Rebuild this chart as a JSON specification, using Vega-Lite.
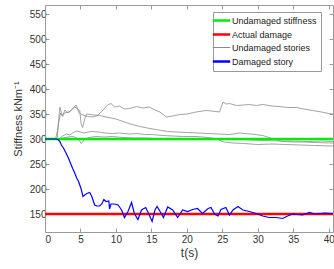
{
  "$schema": "https://vega.github.io/schema/vega-lite/v6.json",
  "width": 288,
  "height": 227,
  "autosize": {"type": "none"},
  "padding": {"left": 45, "top": 5, "right": 1, "bottom": 37},
  "background": "white",
  "config": {
    "view": {"stroke": null},
    "font": "Liberation Sans",
    "axis": {
      "grid": false,
      "domainColor": "#9a9a9a",
      "tickColor": "#9a9a9a",
      "tickSize": -4,
      "labelColor": "#333333",
      "labelFont": "Liberation Sans",
      "labelFontSize": 10,
      "titleFont": "Liberation Sans",
      "titleFontWeight": "normal",
      "titleColor": "#333333"
    },
    "legend": {
      "orient": "none",
      "legendX": 168,
      "legendY": 7,
      "fillColor": "white",
      "strokeColor": "#999999",
      "padding": 4,
      "labelFont": "Liberation Sans",
      "labelFontSize": 9,
      "labelColor": "#222222",
      "labelOffset": 6,
      "symbolType": "stroke",
      "symbolSize": 300,
      "rowPadding": 3,
      "labelLimit": 200
    }
  },
  "datasets": {
    "grey": [
      {"t":0,"v":300,"s":"A","g":"Undamaged stories"},{"t":1.7,"v":300,"s":"A","g":"Undamaged stories"},{"t":1.9,"v":330,"s":"A","g":"Undamaged stories"},{"t":2.2,"v":352,"s":"A","g":"Undamaged stories"},{"t":2.5,"v":345,"s":"A","g":"Undamaged stories"},{"t":2.8,"v":358,"s":"A","g":"Undamaged stories"},{"t":3.2,"v":352,"s":"A","g":"Undamaged stories"},{"t":3.6,"v":356,"s":"A","g":"Undamaged stories"},{"t":4,"v":362,"s":"A","g":"Undamaged stories"},{"t":4.4,"v":368,"s":"A","g":"Undamaged stories"},{"t":4.8,"v":352,"s":"A","g":"Undamaged stories"},{"t":5.3,"v":348,"s":"A","g":"Undamaged stories"},{"t":6,"v":345,"s":"A","g":"Undamaged stories"},{"t":6.8,"v":344,"s":"A","g":"Undamaged stories"},{"t":7.5,"v":348,"s":"A","g":"Undamaged stories"},{"t":8.2,"v":358,"s":"A","g":"Undamaged stories"},{"t":8.8,"v":368,"s":"A","g":"Undamaged stories"},{"t":9.3,"v":371,"s":"A","g":"Undamaged stories"},{"t":9.8,"v":364,"s":"A","g":"Undamaged stories"},{"t":10.5,"v":366,"s":"A","g":"Undamaged stories"},{"t":11.2,"v":360,"s":"A","g":"Undamaged stories"},{"t":11.9,"v":361,"s":"A","g":"Undamaged stories"},{"t":12.9,"v":365,"s":"A","g":"Undamaged stories"},{"t":13.8,"v":362,"s":"A","g":"Undamaged stories"},{"t":14.7,"v":364,"s":"A","g":"Undamaged stories"},{"t":15.5,"v":358,"s":"A","g":"Undamaged stories"},{"t":16.2,"v":354,"s":"A","g":"Undamaged stories"},{"t":17.1,"v":344,"s":"A","g":"Undamaged stories"},{"t":18,"v":346,"s":"A","g":"Undamaged stories"},{"t":19,"v":349,"s":"A","g":"Undamaged stories"},{"t":20,"v":350,"s":"A","g":"Undamaged stories"},{"t":21.3,"v":354,"s":"A","g":"Undamaged stories"},{"t":22.7,"v":357,"s":"A","g":"Undamaged stories"},{"t":23.5,"v":356,"s":"A","g":"Undamaged stories"},{"t":24.6,"v":354,"s":"A","g":"Undamaged stories"},{"t":25.1,"v":374,"s":"A","g":"Undamaged stories"},{"t":25.6,"v":370,"s":"A","g":"Undamaged stories"},{"t":26,"v":371,"s":"A","g":"Undamaged stories"},{"t":27,"v":367,"s":"A","g":"Undamaged stories"},{"t":28,"v":368,"s":"A","g":"Undamaged stories"},{"t":28.8,"v":369,"s":"A","g":"Undamaged stories"},{"t":29.8,"v":367,"s":"A","g":"Undamaged stories"},{"t":30.7,"v":369,"s":"A","g":"Undamaged stories"},{"t":32,"v":366,"s":"A","g":"Undamaged stories"},{"t":33,"v":365,"s":"A","g":"Undamaged stories"},{"t":34.2,"v":363,"s":"A","g":"Undamaged stories"},{"t":35.4,"v":363,"s":"A","g":"Undamaged stories"},{"t":36.5,"v":360,"s":"A","g":"Undamaged stories"},{"t":37.7,"v":357,"s":"A","g":"Undamaged stories"},{"t":39,"v":354,"s":"A","g":"Undamaged stories"},{"t":40,"v":351,"s":"A","g":"Undamaged stories"},{"t":40.6,"v":350,"s":"A","g":"Undamaged stories"},

      {"t":0,"v":300,"s":"B","g":"Undamaged stories"},{"t":1.5,"v":300,"s":"B","g":"Undamaged stories"},{"t":1.8,"v":320,"s":"B","g":"Undamaged stories"},{"t":2.1,"v":364,"s":"B","g":"Undamaged stories"},{"t":2.4,"v":348,"s":"B","g":"Undamaged stories"},{"t":2.8,"v":352,"s":"B","g":"Undamaged stories"},{"t":3.5,"v":355,"s":"B","g":"Undamaged stories"},{"t":4.2,"v":364,"s":"B","g":"Undamaged stories"},{"t":4.9,"v":357,"s":"B","g":"Undamaged stories"},{"t":5.1,"v":330,"s":"B","g":"Undamaged stories"},{"t":5.3,"v":323,"s":"B","g":"Undamaged stories"},{"t":5.6,"v":340,"s":"B","g":"Undamaged stories"},{"t":5.9,"v":350,"s":"B","g":"Undamaged stories"},{"t":6.8,"v":348,"s":"B","g":"Undamaged stories"},{"t":7.7,"v":347,"s":"B","g":"Undamaged stories"},{"t":8.6,"v":344,"s":"B","g":"Undamaged stories"},{"t":10,"v":340,"s":"B","g":"Undamaged stories"},{"t":11,"v":335,"s":"B","g":"Undamaged stories"},{"t":12,"v":330,"s":"B","g":"Undamaged stories"},{"t":13.4,"v":325,"s":"B","g":"Undamaged stories"},{"t":14.8,"v":321,"s":"B","g":"Undamaged stories"},{"t":16,"v":318,"s":"B","g":"Undamaged stories"},{"t":17.3,"v":315,"s":"B","g":"Undamaged stories"},{"t":18.6,"v":314,"s":"B","g":"Undamaged stories"},{"t":20,"v":313,"s":"B","g":"Undamaged stories"},{"t":21.5,"v":312,"s":"B","g":"Undamaged stories"},{"t":23,"v":311,"s":"B","g":"Undamaged stories"},{"t":24.5,"v":310,"s":"B","g":"Undamaged stories"},{"t":26,"v":309,"s":"B","g":"Undamaged stories"},{"t":27.4,"v":312,"s":"B","g":"Undamaged stories"},{"t":29,"v":310,"s":"B","g":"Undamaged stories"},{"t":30.7,"v":307,"s":"B","g":"Undamaged stories"},{"t":31.8,"v":302,"s":"B","g":"Undamaged stories"},{"t":33.5,"v":295,"s":"B","g":"Undamaged stories"},{"t":35,"v":294,"s":"B","g":"Undamaged stories"},{"t":36.5,"v":294,"s":"B","g":"Undamaged stories"},{"t":38,"v":293,"s":"B","g":"Undamaged stories"},{"t":40.6,"v":292,"s":"B","g":"Undamaged stories"},

      {"t":0,"v":300,"s":"C","g":"Undamaged stories"},{"t":2,"v":300,"s":"C","g":"Undamaged stories"},{"t":2.5,"v":306,"s":"C","g":"Undamaged stories"},{"t":3,"v":310,"s":"C","g":"Undamaged stories"},{"t":3.5,"v":308,"s":"C","g":"Undamaged stories"},{"t":4,"v":313,"s":"C","g":"Undamaged stories"},{"t":4.5,"v":316,"s":"C","g":"Undamaged stories"},{"t":5,"v":314,"s":"C","g":"Undamaged stories"},{"t":5.5,"v":312,"s":"C","g":"Undamaged stories"},{"t":6.5,"v":315,"s":"C","g":"Undamaged stories"},{"t":7.5,"v":314,"s":"C","g":"Undamaged stories"},{"t":8.5,"v":312,"s":"C","g":"Undamaged stories"},{"t":9.5,"v":311,"s":"C","g":"Undamaged stories"},{"t":10.5,"v":312,"s":"C","g":"Undamaged stories"},{"t":11.9,"v":310,"s":"C","g":"Undamaged stories"},{"t":13,"v":311,"s":"C","g":"Undamaged stories"},{"t":14,"v":309,"s":"C","g":"Undamaged stories"},{"t":15,"v":309,"s":"C","g":"Undamaged stories"},{"t":16.6,"v":307,"s":"C","g":"Undamaged stories"},{"t":18,"v":306,"s":"C","g":"Undamaged stories"},{"t":19.5,"v":305,"s":"C","g":"Undamaged stories"},{"t":21.3,"v":305,"s":"C","g":"Undamaged stories"},{"t":23,"v":303,"s":"C","g":"Undamaged stories"},{"t":24.2,"v":300,"s":"C","g":"Undamaged stories"},{"t":25.2,"v":294,"s":"C","g":"Undamaged stories"},{"t":26.5,"v":292,"s":"C","g":"Undamaged stories"},{"t":28,"v":291,"s":"C","g":"Undamaged stories"},{"t":30,"v":289,"s":"C","g":"Undamaged stories"},{"t":32,"v":290,"s":"C","g":"Undamaged stories"},{"t":34,"v":289,"s":"C","g":"Undamaged stories"},{"t":36,"v":288,"s":"C","g":"Undamaged stories"},{"t":38,"v":287,"s":"C","g":"Undamaged stories"},{"t":40.6,"v":286,"s":"C","g":"Undamaged stories"},

      {"t":0,"v":300,"s":"D","g":"Undamaged stories"},{"t":2,"v":300,"s":"D","g":"Undamaged stories"},{"t":2.6,"v":302,"s":"D","g":"Undamaged stories"},{"t":3.2,"v":304,"s":"D","g":"Undamaged stories"},{"t":4,"v":305,"s":"D","g":"Undamaged stories"},{"t":4.7,"v":300,"s":"D","g":"Undamaged stories"},{"t":5.1,"v":291,"s":"D","g":"Undamaged stories"},{"t":5.5,"v":298,"s":"D","g":"Undamaged stories"},{"t":6.2,"v":303,"s":"D","g":"Undamaged stories"},{"t":7.2,"v":305,"s":"D","g":"Undamaged stories"},{"t":8.3,"v":304,"s":"D","g":"Undamaged stories"},{"t":9.5,"v":305,"s":"D","g":"Undamaged stories"},{"t":11,"v":303,"s":"D","g":"Undamaged stories"},{"t":12.5,"v":302,"s":"D","g":"Undamaged stories"},{"t":14,"v":302,"s":"D","g":"Undamaged stories"},{"t":15.5,"v":301,"s":"D","g":"Undamaged stories"},{"t":17,"v":300,"s":"D","g":"Undamaged stories"},{"t":18.5,"v":301,"s":"D","g":"Undamaged stories"},{"t":20,"v":300,"s":"D","g":"Undamaged stories"},{"t":21.5,"v":299,"s":"D","g":"Undamaged stories"},{"t":23,"v":300,"s":"D","g":"Undamaged stories"},{"t":24.5,"v":301,"s":"D","g":"Undamaged stories"},{"t":26,"v":299,"s":"D","g":"Undamaged stories"},{"t":27.5,"v":300,"s":"D","g":"Undamaged stories"},{"t":29,"v":298,"s":"D","g":"Undamaged stories"},{"t":31,"v":297,"s":"D","g":"Undamaged stories"},{"t":33,"v":296,"s":"D","g":"Undamaged stories"},{"t":35,"v":296,"s":"D","g":"Undamaged stories"},{"t":37,"v":295,"s":"D","g":"Undamaged stories"},{"t":39,"v":296,"s":"D","g":"Undamaged stories"},{"t":40.6,"v":295,"s":"D","g":"Undamaged stories"}
    ],
    "ref": [
      {"t":0,"v":300,"s":"G","g":"Undamaged stiffness"},{"t":40.6,"v":300,"s":"G","g":"Undamaged stiffness"},
      {"t":0,"v":150,"s":"R","g":"Actual damage"},{"t":40.6,"v":150,"s":"R","g":"Actual damage"}
    ],
    "blue": [
      {"t":0,"v":300},{"t":1.6,"v":300},{"t":1.9,"v":298},{"t":2.1,"v":295},{"t":2.3,"v":288},{"t":2.6,"v":282},{"t":3,"v":271},{"t":3.3,"v":262},{"t":3.5,"v":255},{"t":3.9,"v":241},{"t":4.2,"v":232},{"t":4.3,"v":228},{"t":4.5,"v":221},{"t":4.7,"v":216},{"t":4.9,"v":208},{"t":5.1,"v":200},{"t":5.35,"v":185},{"t":5.6,"v":188},{"t":5.9,"v":191},{"t":6.3,"v":193},{"t":6.6,"v":185},{"t":7,"v":168},{"t":7.3,"v":166},{"t":7.7,"v":166},{"t":8,"v":170},{"t":8.3,"v":179},{"t":8.6,"v":175},{"t":9,"v":176},{"t":9.1,"v":160},{"t":9.3,"v":170},{"t":9.8,"v":170},{"t":10.3,"v":168},{"t":10.8,"v":158},{"t":11.2,"v":143},{"t":11.7,"v":155},{"t":12.2,"v":173},{"t":12.6,"v":151},{"t":13.1,"v":139},{"t":13.6,"v":158},{"t":14.2,"v":163},{"t":14.7,"v":148},{"t":15.1,"v":135},{"t":15.5,"v":158},{"t":15.8,"v":165},{"t":16.4,"v":151},{"t":16.7,"v":143},{"t":17.3,"v":164},{"t":18,"v":158},{"t":18.7,"v":143},{"t":19.4,"v":158},{"t":20.1,"v":155},{"t":20.8,"v":159},{"t":21.5,"v":161},{"t":22.2,"v":151},{"t":23,"v":161},{"t":23.4,"v":163},{"t":23.9,"v":150},{"t":24.4,"v":146},{"t":24.8,"v":159},{"t":25.5,"v":163},{"t":26,"v":148},{"t":26.5,"v":158},{"t":27.2,"v":165},{"t":27.9,"v":158},{"t":28.8,"v":155},{"t":29.8,"v":151},{"t":30.7,"v":146},{"t":31.6,"v":143},{"t":32.6,"v":143},{"t":33.5,"v":141},{"t":34.2,"v":146},{"t":34.9,"v":150},{"t":35.5,"v":149},{"t":36.3,"v":148},{"t":37.3,"v":153},{"t":38,"v":150},{"t":38.7,"v":151},{"t":39.5,"v":152},{"t":40.6,"v":151}
    ]
  },
  "layer": [
    {
      "encoding": {
        "x": {"field": "t", "type": "quantitative", "scale": {"domain": [0, 40.6], "nice": false, "zero": false},
              "axis": {"orient": "bottom", "values": [0,5,10,15,20,25,30,35,40], "title": "t(s)", "titleFontSize": 12, "labelPadding": 6, "titlePadding": 3}},
        "y": {"field": "v", "type": "quantitative", "scale": {"domain": [114, 568], "nice": false, "zero": false},
              "axis": {"orient": "left", "values": [150,200,250,300,350,400,450,500,550], "title": "Stiffness kNm⁻¹", "titleFontSize": 11, "labelPadding": 3, "titlePadding": 6}},
        "color": {"field": "g", "type": "nominal",
                  "scale": {"domain": ["Undamaged stiffness", "Actual damage", "Undamaged stories", "Damaged story"], "range": ["#00ee00", "#ff0000", "#8c8c8c", "#0000ff"]},
                  "legend": {"title": null, "encode": {"symbols": {"update": {"strokeWidth": {"signal": "datum.value === 'Undamaged stories' ? 1 : 2.5"}}}}}}
      },
      "layer": [
        {"data": {"name": "grey"}, "mark": {"type": "line", "strokeWidth": 0.8, "clip": true}, "encoding": {"detail": {"field": "s"}}},
        {"data": {"name": "ref"}, "mark": {"type": "line", "strokeWidth": 2.5, "clip": true}, "encoding": {"detail": {"field": "s"}}},
        {"data": {"name": "blue"}, "transform": [{"calculate": "'Damaged story'", "as": "g"}], "mark": {"type": "line", "strokeWidth": 1.2, "clip": true}, "encoding": {}}
      ]
    },
    {
      "data": {"name": "ref"},
      "mark": {"type": "point", "opacity": 0},
      "encoding": {
        "x": {"field": "t", "type": "quantitative", "axis": {"orient": "top", "values": [0,5,10,15,20,25,30,35,40], "labels": false, "title": null}},
        "y": {"field": "v", "type": "quantitative", "axis": {"orient": "right", "values": [150,200,250,300,350,400,450,500,550], "labels": false, "title": null}}
      }
    }
  ],
  "resolve": {"axis": {"x": "independent", "y": "independent"}}
}
